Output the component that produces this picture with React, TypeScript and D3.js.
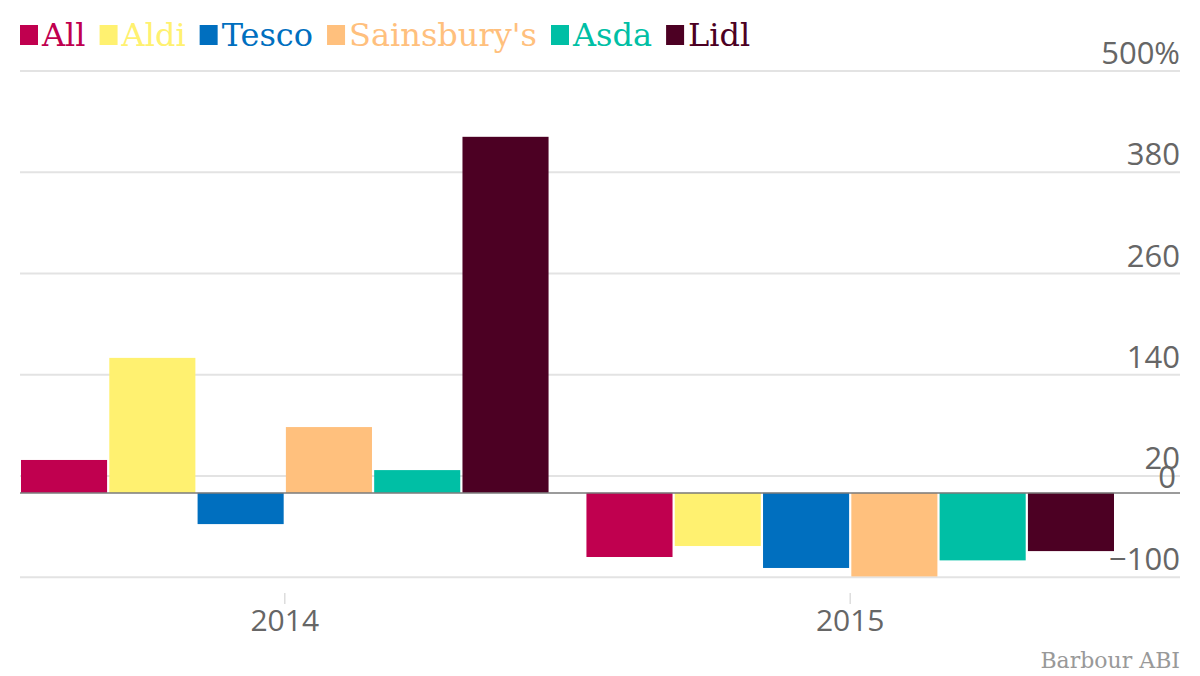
import { useEffect, useRef } from "react"
import * as d3 from "d3"

const years = ["2014", "2015"]
const stores = ["All", "Aldi", "Tesco", "Sainsbury's", "Asda", "Lidl"]
const colors = ["#c0004f", "#fff170", "#006fbf", "#ffc07d", "#00bfa5", "#4c0023"]
const values2014 = [39, 160, -37, 78, 27, 422]
const values2015 = [-76, -63, -89, -99, -80, -69]
const gridTicks = [-100, 20, 140, 260, 380, 500]
const source = "Barbour ABI"

export default function App() {
  const svgRef = useRef<SVGSVGElement>(null)

  useEffect(() => {
    if (!svgRef.current) return
    const width = 1200
    const height = 676
    const left = 20
    const right = 1180

    const svg = d3.select(svgRef.current)
    svg.selectAll("*").remove()
    svg.attr("width", width).attr("height", height)

    const y = d3.scaleLinear().domain([20, 500]).range([476, 71])
    const x0 = d3.scaleBand<string>().domain(years).range([21, 1114]).paddingInner(0.067).paddingOuter(0)
    const x1 = d3.scaleBand<string>().domain(stores).range([0, x0.bandwidth()]).paddingInner(0.025)
    const color = d3.scaleOrdinal<string, string>().domain(stores).range(colors)

    const rows = years.map((yr, i) => ({
      year: yr,
      vals: stores.map((s, j) => ({ store: s, value: (i === 0 ? values2014 : values2015)[j] })),
    }))

    // gridlines
    svg
      .append("g")
      .selectAll("line")
      .data(gridTicks)
      .join("line")
      .attr("x1", left)
      .attr("x2", right)
      .attr("y1", (d) => y(d))
      .attr("y2", (d) => y(d))
      .attr("stroke", "#e3e3e3")
      .attr("stroke-width", 2)

    // y labels
    const labelFont = "'Open Sans', 'DejaVu Sans', sans-serif"
    svg
      .append("g")
      .selectAll("text")
      .data(gridTicks)
      .join("text")
      .attr("x", right)
      .attr("y", (d) => y(d) - 7)
      .attr("text-anchor", "end")
      .style("font-family", labelFont)
      .style("font-size", "31px")
      .style("fill", "#666")
      .text((d) => (d === 500 ? "500%" : d < 0 ? "\u2212" + Math.abs(d) : String(d)))

    svg
      .append("text")
      .attr("x", right - 4)
      .attr("y", y(0) - 5)
      .attr("text-anchor", "end")
      .style("font-family", labelFont)
      .style("font-size", "31px")
      .style("fill", "#666")
      .text("0")

    // bars
    const groups = svg
      .append("g")
      .selectAll("g")
      .data(rows)
      .join("g")
      .attr("transform", (d) => `translate(${x0(d.year)},0)`)

    groups
      .selectAll("rect")
      .data((d) => d.vals)
      .join("rect")
      .attr("x", (d) => x1(d.store) as number)
      .attr("width", x1.bandwidth())
      .attr("y", (d) => y(Math.max(0, d.value)))
      .attr("height", (d) => Math.abs(y(d.value) - y(0)))
      .attr("fill", (d) => color(d.store))

    // zero line
    svg
      .append("line")
      .attr("x1", left)
      .attr("x2", right)
      .attr("y1", y(0))
      .attr("y2", y(0))
      .attr("stroke", "#7a7a7a")
      .attr("stroke-width", 1.5)

    // x axis ticks and labels
    const xa = svg.append("g")
    years.forEach((yr) => {
      const cx = (x0(yr) as number) + x0.bandwidth() / 2
      xa.append("line")
        .attr("x1", cx)
        .attr("x2", cx)
        .attr("y1", 593)
        .attr("y2", 604)
        .attr("stroke", "#ddd")
        .attr("stroke-width", 1.5)
      xa.append("text")
        .attr("x", cx)
        .attr("y", 631)
        .attr("text-anchor", "middle")
        .style("font-family", labelFont)
        .style("font-size", "30px")
        .style("fill", "#666")
        .text(yr)
    })

    // legend
    const slab = "'DejaVu Serif', serif"
    const legend = svg.append("g")
    let lx = 20
    stores.forEach((s) => {
      legend
        .append("rect")
        .attr("x", lx)
        .attr("y", 25)
        .attr("width", 18)
        .attr("height", 20)
        .attr("fill", color(s))
      const t = legend
        .append("text")
        .attr("x", lx + 22)
        .attr("y", 46)
        .style("font-family", slab)
        .style("font-size", "32px")
        .style("fill", color(s))
        .text(s)
      const w = (t.node() as SVGTextElement).getComputedTextLength()
      lx += 22 + w + 14
    })

    // source
    svg
      .append("text")
      .attr("x", right)
      .attr("y", 668)
      .attr("text-anchor", "end")
      .style("font-family", slab)
      .style("font-size", "22px")
      .style("fill", "#999")
      .text(source)
  }, [])

  return <svg ref={svgRef} width={1200} height={676} style={{ position: "absolute", left: 0, top: 0 }}></svg>
}
